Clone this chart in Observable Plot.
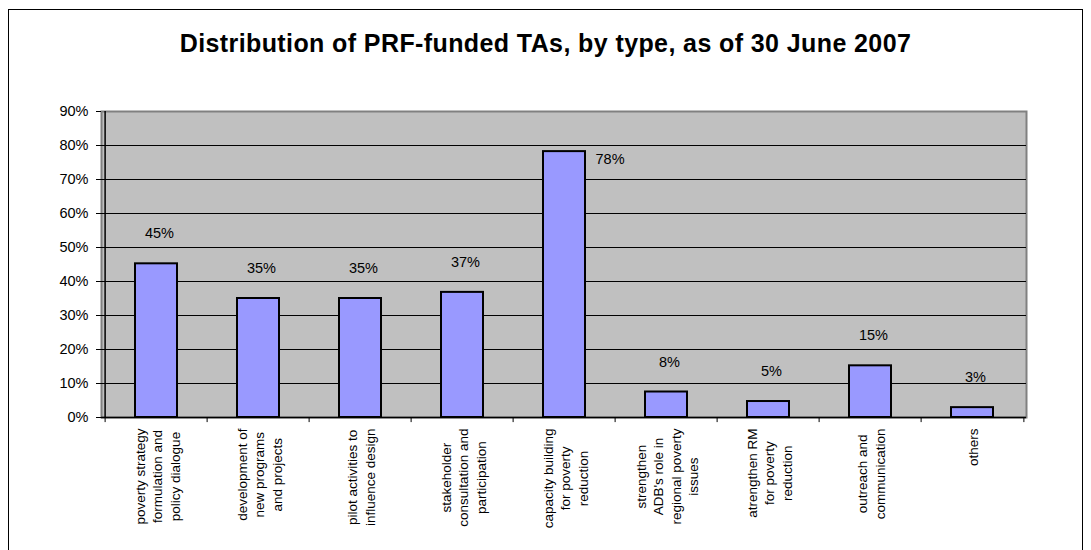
<!DOCTYPE html>
<html>
<head>
<meta charset="utf-8">
<script src="https://cdn.jsdelivr.net/npm/d3@7"></script>
<script src="https://cdn.jsdelivr.net/npm/@observablehq/plot@0.6"></script>
<style>
  body { margin: 0; background: #fff; font-family: "Liberation Sans", Arial, sans-serif; }
  #wrap { position: relative; width: 1091px; height: 550px; overflow: hidden; }
  #frame { position: absolute; left: 8px; top: 9px; width: 1075px; height: 620px; border: 1.5px solid #000; box-sizing: border-box; pointer-events: none; }
  #title { height: 89px; box-sizing: border-box; padding-top: 29px; line-height: 28px; font-size: 25px; letter-spacing: 0.4px; font-weight: bold; text-align: center; color: #000; }
  #chart svg { display: block; }
</style>
</head>
<body>
<div id="wrap">
  <div id="frame"></div>
  <div id="title">Distribution of PRF-funded TAs, by type, as of 30 June 2007</div>
  <div id="chart"></div>
</div>
<script>
const categories = [
  "poverty strategy formulation and policy dialogue",
  "development of new programs and projects",
  "pilot activities to influence design",
  "stakeholder consultation and participation",
  "capacity building for poverty reduction",
  "strengthen ADB's role in regional poverty issues",
  "atrengthen RM for poverty reduction",
  "outreach and communication",
  "others"
];
const values = [45.2, 35.0, 35.0, 36.8, 78.2, 7.5, 4.7, 15.2, 2.9];
const tickLabels = [
  "poverty strategy\nformulation and\npolicy dialogue",
  "development of\nnew programs\nand projects",
  "pilot activities to\ninfluence design",
  "stakeholder\nconsultation and\nparticipation",
  "capacity building\nfor poverty\nreduction",
  "strengthen\nADB's role in\nregional poverty\nissues",
  "atrengthen RM\nfor poverty\nreduction",
  "outreach and\ncommunication",
  "others"
];
const yTicks = [0, 10, 20, 30, 40, 50, 60, 70, 80, 90];

const data = categories.map((c, i) => ({category: c, value: values[i], label: Math.round(values[i]) + "%"}));
const labelMap = new Map(categories.map((c, i) => [c, tickLabels[i]]));

const W = 1091, ML = 101, MR = 65;
const step = (W - ML - MR) / categories.length;

const chart = Plot.plot({
  width: W, height: 461,
  marginTop: 22, marginRight: MR, marginBottom: 133, marginLeft: ML,
  style: {fontFamily: "'Liberation Sans', Arial, sans-serif", background: "transparent", color: "#000", overflow: "visible"},
  x: {domain: categories, paddingInner: 0.59, paddingOuter: 0.295},
  y: {domain: [0, 90]},
  marks: [
    Plot.frame({fill: "#C0C0C0", stroke: "#808080", strokeWidth: 2}),
    Plot.ruleY(yTicks.filter(t => t > 0 && t < 90), {stroke: "#000", strokeWidth: 1}),
    Plot.ruleY([0], {stroke: "#000", strokeWidth: 1.5}),
    Plot.ruleX([categories[0]], {y1: 0, y2: 90, dx: -step / 2, stroke: "#000", strokeWidth: 1.5}),
    Plot.ruleX(categories, {y1: 0, y2: -1.5, dx: -step / 2, stroke: "#000", strokeWidth: 1}),
    Plot.ruleX([categories[categories.length - 1]], {y1: 0, y2: -1.5, dx: step / 2, stroke: "#000", strokeWidth: 1}),
    Plot.barY(data, {x: "category", y: "value", fill: "#9999FF", stroke: "#000", strokeWidth: 2}),
    Plot.text(data.filter(d => d.value < 70), {x: "category", y: "value", text: "label", dy: -30, dx: 3, fontSize: 14.5, fill: "#000"}),
    Plot.text(data.filter(d => d.value >= 70), {x: "category", y: "value", text: "label", textAnchor: "start", dx: 31, dy: 8, fontSize: 14.5, fill: "#000"}),
    Plot.axisY({ticks: yTicks, tickFormat: d => d + "%", tickSize: 5, tickPadding: 8, fontSize: 14.5, label: null}),
    Plot.axisX({tickFormat: c => labelMap.get(c), tickRotate: -90, tickSize: 0, tickPadding: 11, fontSize: 13.5, lineHeight: 1.3, label: null})
  ]
});
document.getElementById("chart").appendChild(chart);

// center the lines of each rotated category label, keeping the block's top at the axis
d3.select(chart).selectAll('g[aria-label="x-axis tick label"] text').each(function() {
  const tspans = this.querySelectorAll("tspan");
  let L = 0;
  if (tspans.length) {
    tspans.forEach(t => { L = Math.max(L, t.getComputedTextLength()); });
    this.setAttribute("text-anchor", "middle");
    tspans.forEach(t => t.setAttribute("x", -L / 2));
  } else {
    L = this.getComputedTextLength();
    this.setAttribute("text-anchor", "middle");
    this.setAttribute("x", -L / 2);
  }
});
</script>
</body>
</html>
